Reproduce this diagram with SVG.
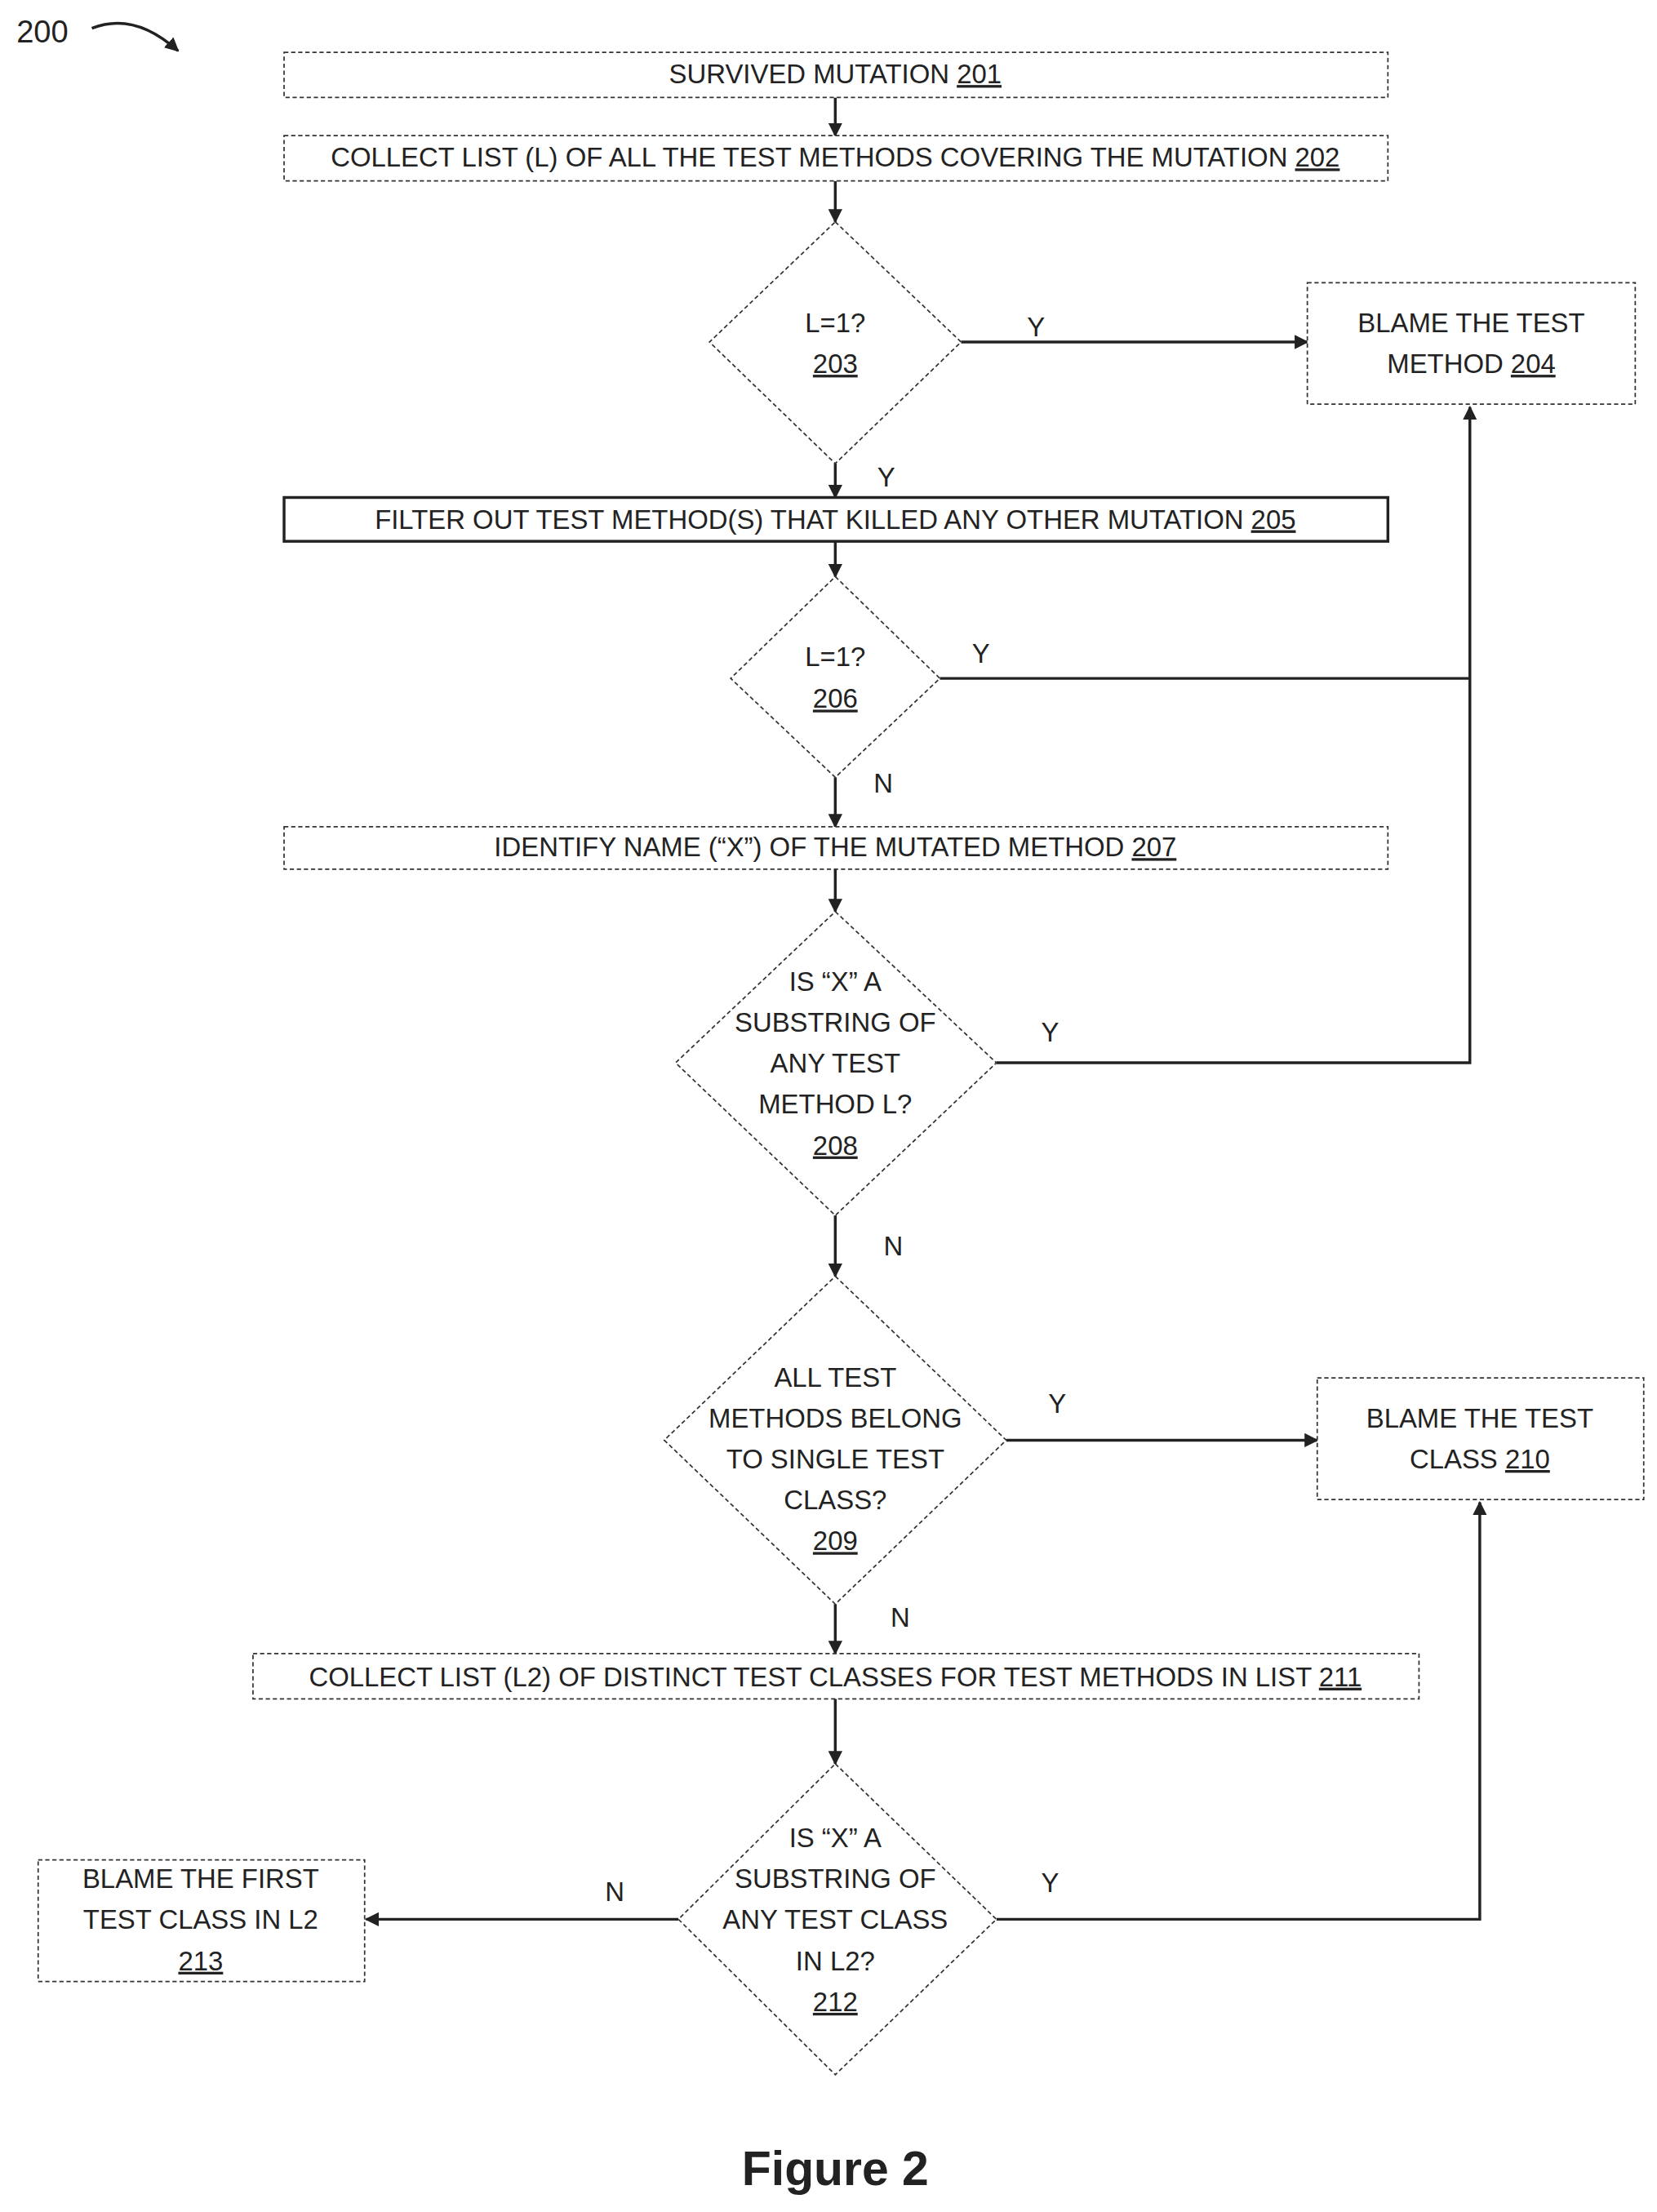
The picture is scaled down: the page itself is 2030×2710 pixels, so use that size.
<svg xmlns="http://www.w3.org/2000/svg" width="2030" height="2710" viewBox="0 0 2030 2710">
<style>
text{font-family:"Liberation Sans",Arial,sans-serif;font-size:19px;fill:#222;text-anchor:middle}
.n{text-decoration:underline}
.b{fill:#fff;stroke:#333;stroke-width:1;stroke-dasharray:3 2}
.s{fill:#fff;stroke:#222;stroke-width:2}
.c{fill:none;stroke:#222;stroke-width:2}
.l{text-anchor:start}
</style>
<defs><marker id="a" markerWidth="10" markerHeight="10" refX="9" refY="5" orient="auto" markerUnits="userSpaceOnUse"><path d="M0,0L10,5L0,10z" fill="#222"/></marker></defs>
<rect width="2030" height="2710" fill="#fff"/>
<g transform="scale(1.7315)">
<text x="30" y="30" style="font-size:22px">200</text>
<path class="c" d="M65,20 Q95,8 126,36" marker-end="url(#a)"/>
<g id="connectors">
<path class="c" d="M591,69V96" marker-end="url(#a)"/>
<path class="c" d="M591,128V157" marker-end="url(#a)"/>
<path class="c" d="M680,242H925" marker-end="url(#a)"/>
<path class="c" d="M591,328V352" marker-end="url(#a)"/>
<path class="c" d="M591,383V408" marker-end="url(#a)"/>
<path class="c" d="M665,480H1040"/>
<path class="c" d="M705,752H1040V288" marker-end="url(#a)"/>
<path class="c" d="M591,550V585" marker-end="url(#a)"/>
<path class="c" d="M591,615V645" marker-end="url(#a)"/>
<path class="c" d="M591,860V903" marker-end="url(#a)"/>
<path class="c" d="M712,1019H932" marker-end="url(#a)"/>
<path class="c" d="M591,1135V1170" marker-end="url(#a)"/>
<path class="c" d="M591,1202V1248" marker-end="url(#a)"/>
<path class="c" d="M705,1358H1047V1063" marker-end="url(#a)"/>
<path class="c" d="M480,1358H259" marker-end="url(#a)"/>
<text x="733" y="238">Y</text><text x="627" y="344">Y</text><text x="694" y="469">Y</text>
<text x="625" y="561">N</text><text x="743" y="737">Y</text><text x="632" y="888">N</text>
<text x="748" y="1000">Y</text><text x="637" y="1151">N</text><text x="743" y="1339">Y</text><text x="435" y="1345">N</text>
</g>
<g id="n201"><rect class="b" x="201" y="37" width="781" height="32"/><text x="591" y="59">SURVIVED MUTATION <tspan class="n">201</tspan></text></g>
<g id="n202"><rect class="b" x="201" y="96" width="781" height="32"/><text x="591" y="118">COLLECT LIST (L) OF ALL THE TEST METHODS COVERING THE MUTATION <tspan class="n">202</tspan></text></g>
<g id="n203"><path class="b" d="M591,157L680,242L591,328L502,242z"/><text x="591" y="235">L=1?</text><text x="591" y="264" class="n">203</text></g>
<g id="n204"><rect class="b" x="925" y="200" width="232" height="86"/><text x="1041" y="235">BLAME THE TEST</text><text x="1041" y="264">METHOD <tspan class="n">204</tspan></text></g>
<g id="n205"><rect class="s" x="201" y="352" width="781" height="31"/><text x="591" y="374">FILTER OUT TEST METHOD(S) THAT KILLED ANY OTHER MUTATION <tspan class="n">205</tspan></text></g>
<g id="n206"><path class="b" d="M591,408L665,480L591,550L517,480z"/><text x="591" y="471">L=1?</text><text x="591" y="501" class="n">206</text></g>
<g id="n207"><rect class="b" x="201" y="585" width="781" height="30"/><text x="591" y="606">IDENTIFY NAME (“X”) OF THE MUTATED METHOD <tspan class="n">207</tspan></text></g>
<g id="n208"><path class="b" d="M591,645L705,752L591,860L478,752z"/><text x="591" y="701">IS “X” A</text><text x="591" y="730">SUBSTRING OF</text><text x="591" y="759">ANY TEST</text><text x="591" y="788">METHOD L?</text><text x="591" y="817" class="n">208</text></g>
<g id="n209"><path class="b" d="M591,903L712,1019L591,1135L470,1019z"/><text x="591" y="981">ALL TEST</text><text x="591" y="1010">METHODS BELONG</text><text x="591" y="1039">TO SINGLE TEST</text><text x="591" y="1068">CLASS?</text><text x="591" y="1097" class="n">209</text></g>
<g id="n210"><rect class="b" x="932" y="975" width="231" height="86"/><text x="1047" y="1010">BLAME THE TEST</text><text x="1047" y="1039">CLASS <tspan class="n">210</tspan></text></g>
<g id="n211"><rect class="b" x="179" y="1170" width="825" height="32"/><text x="591" y="1193">COLLECT LIST (L2) OF DISTINCT TEST CLASSES FOR TEST METHODS IN LIST <tspan class="n">211</tspan></text></g>
<g id="n212"><path class="b" d="M591,1248L705,1358L591,1468L480,1358z"/><text x="591" y="1307">IS “X” A</text><text x="591" y="1336">SUBSTRING OF</text><text x="591" y="1365">ANY TEST CLASS</text><text x="591" y="1394">IN L2?</text><text x="591" y="1423" class="n">212</text></g>
<g id="n213"><rect class="b" x="27" y="1316" width="231" height="86"/><text x="142" y="1336">BLAME THE FIRST</text><text x="142" y="1365">TEST CLASS IN L2</text><text x="142" y="1394" class="n">213</text></g>
<text x="591" y="1546" style="font-size:34px;font-weight:bold">Figure 2</text>
</g>
</svg>
